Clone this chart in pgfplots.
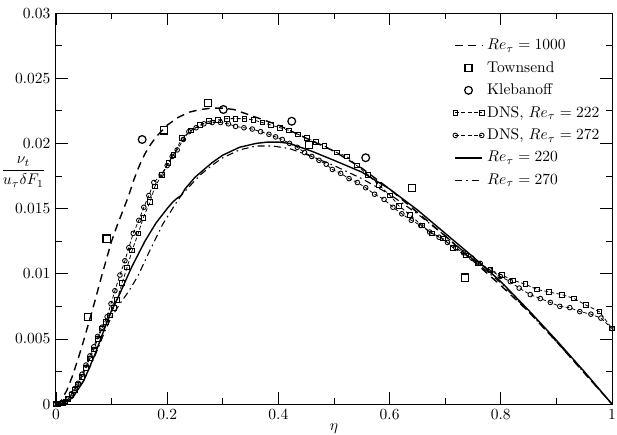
\documentclass[border=0pt]{standalone}
\usepackage{pgfplots}
\pgfplotsset{compat=1.18}
\pgfplotsset{twoendlegend/.style={legend image code/.code={\draw[##1] plot coordinates {(0cm,0cm) (0.6cm,0cm)};}}}
\begin{document}
\begin{tikzpicture}
\begin{axis}[name=ax,
 width=358.7pt, height=252.3pt, scale only axis,
 xmin=0, xmax=1, ymin=0, ymax=0.03,
 xtick={0,0.2,0.4,0.6,0.8,1}, minor x tick num=1,
 ytick={0,0.005,0.01,0.015,0.02,0.025,0.03}, minor y tick num=1,
 tick align=inside, major tick length=7.7pt, minor tick length=4pt,
 scaled y ticks=false, scaled x ticks=false,
 yticklabel style={/pgf/number format/fixed, /pgf/number format/precision=3},
 xticklabel style={/pgf/number format/fixed},
 axis line style={line width=0.6pt},
 every tick/.style={line width=0.5pt, black},
 xlabel={$\eta$},
 xlabel style={at={(axis description cs:0.5,0)}, anchor=center, yshift=-15.5pt},
 ylabel={$\displaystyle\frac{\nu_t}{u_\tau\delta F_1}$},
 ylabel style={rotate=-90, at={(axis description cs:-0.0585,0.593)}, anchor=center},
 legend style={draw=none, fill=none, at={(axis description cs:0.705,0.95)}, anchor=north west, row sep=2pt},
 legend cell align=left,
]
% Re_tau = 1000 (dashed)
\addplot[black, line width=0.9pt, dash pattern=on 5pt off 3.5pt] coordinates {
(0,0)(0.005,0.0001)(0.01,0.0003)(0.02,0.0011)(0.03,0.0022)(0.04,0.0035)(0.05,0.0049)(0.06,0.0064)(0.07,0.0079)(0.08,0.0095)(0.09,0.011)(0.1,0.0125)(0.11,0.0137)(0.12,0.0148)(0.13,0.0159)(0.14,0.0172)(0.15,0.0183)(0.16,0.0192)(0.17,0.0199)(0.18,0.0205)(0.2,0.0214)(0.22,0.022)(0.24,0.0224)(0.26,0.0226)(0.28,0.0227)(0.3,0.0227)(0.32,0.0226)(0.34,0.0223)(0.36,0.022)(0.38,0.0217)(0.4,0.0214)(0.42,0.021)(0.45,0.0204)(0.5,0.0194)(0.55,0.0181)(0.6,0.0165)(0.65,0.0147)(0.7,0.0129)(0.75,0.011)(0.8,0.0091)(0.85,0.0071)(0.9,0.0048)(0.95,0.0024)(1,0)};
\addlegendentry{$Re_\tau=1000$}
% Townsend
\addplot[black, only marks, mark=square, mark size=2.3pt, mark options={line width=0.8pt}] coordinates {
(0.058,0.0067)(0.091,0.0127)(0.194,0.0210)(0.273,0.0231)(0.455,0.0199)(0.64,0.0166)(0.736,0.0097)};
\addlegendentry{Townsend}
% Klebanoff
\addplot[black, only marks, mark=o, mark size=2.5pt, mark options={line width=0.8pt}] coordinates {
(0.155,0.0203)(0.301,0.0226)(0.424,0.0217)(0.557,0.0189)};
\addlegendentry{Klebanoff}
% DNS 222
\addplot[black, line width=0.5pt, dash pattern=on 2.5pt off 1.5pt, mark=square, mark size=1.5pt, mark options={solid, fill=white, line width=0.55pt}, twoendlegend] coordinates {
(0,0)(0.004,0.00001)(0.008,0.00005)(0.012,0.0001)(0.017,0.0002)(0.022,0.0004)(0.028,0.0007)(0.034,0.0011)(0.04,0.0015)(0.047,0.0021)(0.054,0.0028)(0.061,0.0035)(0.068,0.0042)(0.075,0.005)(0.083,0.0058)(0.09,0.0063)(0.097,0.0068)(0.104,0.0074)(0.11,0.008)(0.119,0.0093)(0.128,0.0105)(0.137,0.0118)(0.148,0.0131)(0.157,0.0143)(0.169,0.0155)(0.178,0.0167)(0.191,0.0176)(0.202,0.0185)(0.211,0.0191)(0.227,0.0204)(0.243,0.021)(0.259,0.0214)(0.275,0.0217)(0.291,0.0218)(0.307,0.0219)(0.323,0.0219)(0.339,0.0219)(0.355,0.0218)(0.371,0.0216)(0.387,0.0214)(0.403,0.0212)(0.419,0.021)(0.435,0.0207)(0.451,0.0204)(0.467,0.0201)(0.483,0.0198)(0.505,0.0193)(0.523,0.019)(0.541,0.0183)(0.561,0.0176)(0.581,0.0168)(0.601,0.016)(0.617,0.0152)(0.637,0.0145)(0.658,0.0137)(0.676,0.0131)(0.696,0.0127)(0.714,0.012)(0.737,0.0114)(0.759,0.0108)(0.781,0.0103)(0.802,0.0099)(0.822,0.0095)(0.844,0.0092)(0.865,0.0088)(0.887,0.0086)(0.91,0.0084)(0.932,0.0081)(0.953,0.0076)(0.977,0.0071)(1.0,0.0058)};
\addlegendentry{DNS, $Re_\tau=222$}
% DNS 272
\addplot[black, line width=0.5pt, dash pattern=on 2.5pt off 1.5pt, mark=o, mark size=1.5pt, mark options={solid, fill=white, line width=0.55pt}, twoendlegend] coordinates {
(0,0)(0.004,0.00001)(0.008,0.00005)(0.012,0.0001)(0.017,0.0002)(0.022,0.0004)(0.028,0.0008)(0.034,0.0012)(0.04,0.0016)(0.047,0.0023)(0.054,0.003)(0.061,0.0037)(0.068,0.0044)(0.075,0.0052)(0.083,0.0059)(0.092,0.0067)(0.099,0.0077)(0.106,0.0087)(0.115,0.0099)(0.124,0.011)(0.131,0.012)(0.139,0.0131)(0.149,0.0141)(0.158,0.0151)(0.167,0.016)(0.176,0.017)(0.189,0.0176)(0.2,0.0183)(0.209,0.019)(0.218,0.0195)(0.229,0.0203)(0.239,0.0209)(0.252,0.0212)(0.266,0.0215)(0.281,0.0216)(0.296,0.0216)(0.31,0.0215)(0.323,0.0213)(0.338,0.0212)(0.353,0.0211)(0.368,0.0209)(0.383,0.0207)(0.395,0.0205)(0.407,0.0203)(0.42,0.02)(0.434,0.0197)(0.447,0.0193)(0.46,0.019)(0.473,0.0187)(0.486,0.0184)(0.497,0.018)(0.512,0.0177)(0.527,0.0173)(0.542,0.017)(0.557,0.0166)(0.573,0.0161)(0.59,0.0157)(0.606,0.0151)(0.622,0.0146)(0.639,0.0141)(0.656,0.0137)(0.672,0.0132)(0.689,0.0128)(0.704,0.0124)(0.719,0.012)(0.733,0.0116)(0.748,0.0112)(0.763,0.0108)(0.78,0.0103)(0.799,0.0098)(0.817,0.0094)(0.833,0.0089)(0.853,0.0084)(0.871,0.0081)(0.889,0.0078)(0.906,0.0075)(0.924,0.0074)(0.942,0.0071)(0.962,0.0069)(0.98,0.0066)(1,0.0058)};
\addlegendentry{DNS, $Re_\tau=272$}
% Re 220 solid
\addplot[black, line width=0.9pt] coordinates {
(0,0)(0.015,0.0001)(0.03,0.0005)(0.05,0.0018)(0.07,0.0038)(0.09,0.0061)(0.1,0.0072)(0.113,0.0083)(0.136,0.0105)(0.16,0.0125)(0.18,0.0139)(0.2,0.015)(0.21,0.0155)(0.218,0.0158)(0.225,0.016)(0.232,0.0165)(0.25,0.0174)(0.28,0.0185)(0.3,0.0191)(0.33,0.0197)(0.36,0.02)(0.38,0.0201)(0.4,0.0201)(0.42,0.02)(0.46,0.0194)(0.5,0.0187)(0.55,0.0178)(0.6,0.0165)(0.65,0.0149)(0.7,0.0131)(0.75,0.0113)(0.8,0.0094)(0.85,0.0072)(0.9,0.0049)(0.95,0.0025)(1,0)};
\addlegendentry{$Re_\tau=220$}
% Re 270 dash-dot
\addplot[black, line width=0.7pt, dash pattern=on 4.5pt off 2.5pt on 1pt off 2.5pt] coordinates {
(0,0)(0.015,0.0001)(0.03,0.0005)(0.05,0.0018)(0.07,0.0037)(0.09,0.0058)(0.1,0.0067)(0.115,0.0077)(0.13,0.0086)(0.147,0.0098)(0.169,0.0118)(0.192,0.0138)(0.214,0.0153)(0.225,0.016)(0.24,0.0167)(0.26,0.0176)(0.28,0.0183)(0.3,0.0189)(0.33,0.0195)(0.36,0.0198)(0.39,0.0198)(0.42,0.0196)(0.46,0.019)(0.5,0.0183)(0.55,0.0173)(0.6,0.0161)(0.65,0.0146)(0.7,0.0129)(0.75,0.0111)(0.8,0.0093)(0.85,0.0071)(0.9,0.0048)(0.95,0.0024)(1,0)};
\addlegendentry{$Re_\tau=270$}
\end{axis}
\pgfresetboundingbox
\path[use as bounding box] ([xshift=-36.1pt,yshift=-19.4pt]ax.south west) rectangle ([xshift=3.2pt,yshift=8.4pt]ax.north east);
\end{tikzpicture}
\end{document}
